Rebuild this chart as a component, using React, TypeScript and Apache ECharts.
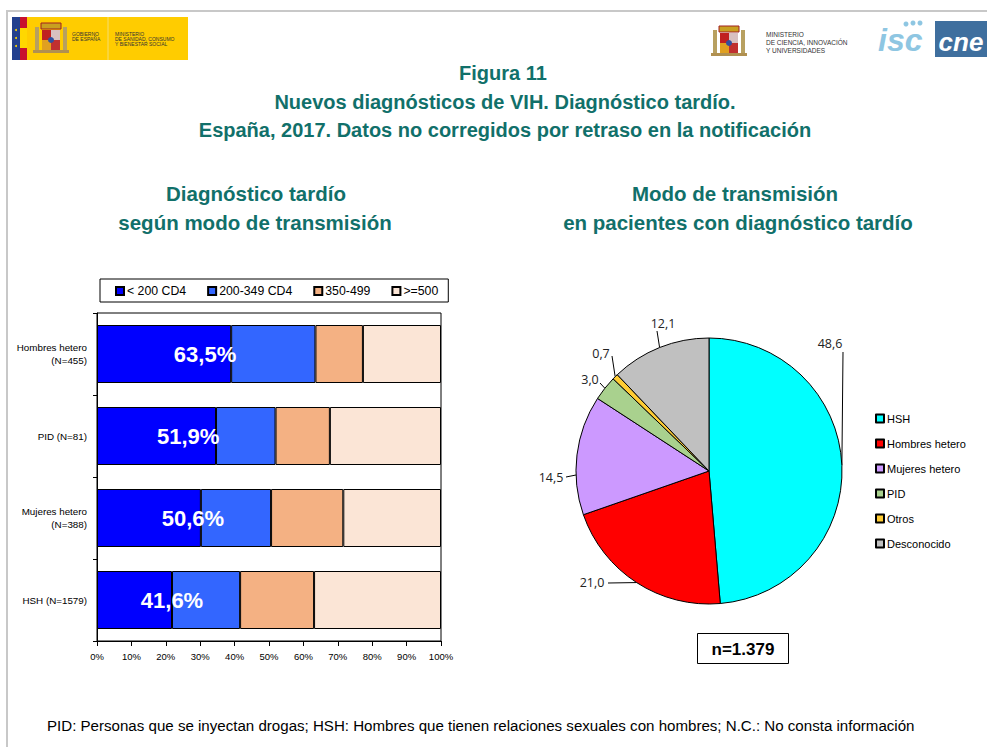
import React, { useEffect, useRef } from "react";
import * as echarts from "echarts";

// ---------- DATA ----------
const categories = ["Hombres hetero\n(N=455)", "PID (N=81)", "Mujeres hetero\n(N=388)", "HSH (N=1579)"];
const cd4Names = ["< 200 CD4", "200-349 CD4", "350-499", ">=500"];
const cd4Lt200 = [39.0, 34.6, 30.2, 21.8];
const cd4_200_349 = [24.5, 17.3, 20.4, 19.8];
const cd4_350_499 = [13.8, 15.8, 21.0, 21.5];
const cd4Ge500 = [22.7, 32.3, 28.4, 36.9];
const lateDiagnosis = [63.5, 51.9, 50.6, 41.6];
const lateLabelAnchor = [31.4, 26.5, 27.9, 21.8];
const xTicks = { min: 0, max: 100, interval: 10 };

const pieNames = ["HSH", "Hombres hetero", "Mujeres hetero", "PID", "Otros", "Desconocido"];
const pieValues = [48.6, 21.0, 14.5, 3.0, 0.7, 12.1];
const totalN = "n=1.379";

// ---------- STYLE ----------
const barColors = ["#0000FF", "#3366FF", "#F4B183", "#FBE5D6"];
const pieColors = ["#00FFFF", "#FF0000", "#CC99FF", "#A9D18E", "#FFCC33", "#C0C0C0"];
const TEAL = "#11706A";
const pieLabelPos: [number, number][] = [
  [830, 343], [592, 582], [551, 477], [590, 379], [601, 353], [663, 323],
];
const pieLabelBend: [number, number][] = [
  [843, 352], [608, 583], [566, 477], [600, 383], [612, 356], [657, 331],
];
const pieLabelEdge: ([number, number] | null)[] = [null, null, [576, 475], null, null, null];

const fmt = (v: number) => v.toFixed(1).replace(".", ",");

export default function App() {
  const ref = useRef<HTMLDivElement>(null);
  useEffect(() => {
    if (!ref.current) return;
    const chart = echarts.init(ref.current, null, { renderer: "svg" });
    const arial = "Arial, 'Liberation Sans', sans-serif";
    const barSeries = [cd4Lt200, cd4_200_349, cd4_350_499, cd4Ge500].map((d, i) => ({
      name: cd4Names[i],
      type: "bar",
      stack: "cd4",
      xAxisIndex: 0,
      yAxisIndex: 0,
      barWidth: 58,
      data: d,
      itemStyle: { color: barColors[i], borderColor: "#000", borderWidth: 1 },
      emphasis: { disabled: true },
    }));

    const titleText = (text: string, x: number, y: number, size: number) => ({
      type: "text",
      style: {
        text, x, y, fill: TEAL, textAlign: "center", textVerticalAlign: "middle",
        font: `bold ${size}px Arial, 'Liberation Sans', sans-serif`,
      },
    });
    const small = (text: string, x: number, y: number, size: number, fill = "#333") => ({
      type: "text",
      style: { text, x, y, fill, font: `${size}px Arial, sans-serif`, textVerticalAlign: "middle" },
    });

    const coat = (cx: number, cy: number) => ({
      type: "group",
      children: [
        { type: "rect", shape: { x: cx - 16, y: cy - 10, width: 4, height: 24 }, style: { fill: "#B8A060" } },
        { type: "rect", shape: { x: cx + 12, y: cy - 10, width: 4, height: 24 }, style: { fill: "#B8A060" } },
        { type: "rect", shape: { x: cx - 10, y: cy - 14, width: 20, height: 6 }, style: { fill: "#C8A020", stroke: "#A02020", lineWidth: 1 } },
        { type: "rect", shape: { x: cx - 9, y: cy - 7, width: 9, height: 10 }, style: { fill: "#C02020" } },
        { type: "rect", shape: { x: cx, y: cy - 7, width: 9, height: 10 }, style: { fill: "#D8C0C0" } },
        { type: "rect", shape: { x: cx - 9, y: cy + 3, width: 9, height: 10 }, style: { fill: "#E0A020" } },
        { type: "rect", shape: { x: cx, y: cy + 3, width: 9, height: 10 }, style: { fill: "#C03030" } },
        { type: "circle", shape: { cx, cy: cy + 3, r: 3 }, style: { fill: "#3050A0" } },
        { type: "rect", shape: { x: cx - 18, y: cy + 13, width: 36, height: 3 }, style: { fill: "#B09050" } },
      ],
    });

    chart.setOption({
      animation: false,
      textStyle: { fontFamily: arial },
      grid: [{ left: 97, right: 546, top: 313, bottom: 106, show: true, borderColor: "#000", borderWidth: 1, backgroundColor: "#fff" }],
      xAxis: [{
        type: "value", gridIndex: 0, min: xTicks.min, max: xTicks.max, interval: xTicks.interval,
        axisLine: { show: true, lineStyle: { color: "#000", width: 1 } },
        axisTick: { show: true, length: 5, lineStyle: { color: "#000" } },
        splitLine: { show: false },
        axisLabel: { formatter: "{value}%", fontFamily: arial, fontSize: 9.5, color: "#000", margin: 10 },
      }],
      yAxis: [{
        type: "category", gridIndex: 0, data: categories, inverse: true,
        axisLine: { show: true, lineStyle: { color: "#000", width: 1 } },
        axisTick: { show: true, length: 4, lineStyle: { color: "#000" } },
        axisLabel: { fontFamily: arial, fontSize: 9.8, color: "#000", lineHeight: 13, margin: 10 },
      }],
      legend: [
        {
          data: cd4Names, left: 100, top: 279, orient: "horizontal",
          borderColor: "#000", borderWidth: 1, padding: [6, 10, 5, 15],
          itemGap: 21, itemWidth: 8, itemHeight: 8, icon: "rect",
          textStyle: { fontFamily: arial, fontSize: 12.3, color: "#000", padding: [0, 0, 0, -2] },
          selectedMode: false,
        },
        {
          data: pieNames, left: 870, top: 408, orient: "vertical",
          itemGap: 14, itemWidth: 8, itemHeight: 8, icon: "rect",
          textStyle: { fontFamily: arial, fontSize: 11, color: "#000", padding: [0, 0, 0, -2] },
          selectedMode: false,
        },
      ],
      series: [
        ...barSeries,
        {
          type: "scatter", xAxisIndex: 0, yAxisIndex: 0, symbolSize: 0, silent: true, z: 10,
          itemStyle: { opacity: 1, color: "#ffffff" },
          data: lateLabelAnchor.map((x, i) => [x, categories[i]]),
          label: {
            show: true, position: "inside",
            formatter: (p: any) => fmt(lateDiagnosis[p.dataIndex]) + "%",
            color: "#ffffff", fontWeight: "bold", fontSize: 22, fontFamily: arial,
            textBorderWidth: 0, textBorderColor: "transparent", opacity: 1,
          },
        },
        {
          type: "pie", center: [709, 471], radius: 133, startAngle: 90, clockwise: true,
          data: pieNames.map((n, i) => ({ name: n, value: pieValues[i], itemStyle: { color: pieColors[i] } })),
          itemStyle: { borderColor: "#000", borderWidth: 1 },
          emphasis: { disabled: true },
          label: {
            show: true, position: "outside", formatter: (p: any) => fmt(p.value),
            fontFamily: "'Open Sans', 'Noto Sans', sans-serif", fontSize: 12.5, color: "#222",
          },
          labelLine: { show: true, length: 10, length2: 10, lineStyle: { color: "#000", width: 1 } },
          labelLayout: (params: any) => {
            const i = params.dataIndex;
            const pos = pieLabelPos[i];
            const p0 = pieLabelEdge[i] || (params.labelLinePoints ? params.labelLinePoints[0] : pieLabelBend[i]);
            const b = pieLabelBend[i];
            return {
              x: pos[0], y: pos[1], align: "center", verticalAlign: "middle",
              labelLinePoints: [p0, b, b],
            };
          },
        },
      ],
      graphic: [
        { type: "line", shape: { x1: 6, y1: 11, x2: 987, y2: 11 }, style: { stroke: "#C8C8C8", lineWidth: 2 } },
        { type: "line", shape: { x1: 7, y1: 11, x2: 7, y2: 747 }, style: { stroke: "#C8C8C8", lineWidth: 2 } },
        { type: "rect", shape: { x: 12, y: 17, width: 176, height: 43 }, style: { fill: "#FFCC00" } },
        { type: "rect", shape: { x: 12, y: 17, width: 8, height: 43 }, style: { fill: "#23408E" } },
        { type: "rect", shape: { x: 20, y: 17, width: 7, height: 43 }, style: { fill: "#C8102E" } },
        { type: "rect", shape: { x: 20, y: 28, width: 7, height: 20 }, style: { fill: "#FFD700" } },
        { type: "circle", shape: { cx: 16, cy: 30, r: 1 }, style: { fill: "#FFD700" } },
        { type: "circle", shape: { cx: 16, cy: 38, r: 1 }, style: { fill: "#FFD700" } },
        { type: "circle", shape: { cx: 16, cy: 46, r: 1 }, style: { fill: "#FFD700" } },
        coat(51, 37),
        small("GOBIERNO", 72, 34, 5),
        small("DE ESPAÑA", 72, 39, 5),
        { type: "line", shape: { x1: 108, y1: 17, x2: 108, y2: 60 }, style: { stroke: "#F5DD70", lineWidth: 1 } },
        small("MINISTERIO", 115, 34, 5),
        small("DE SANIDAD, CONSUMO", 115, 39, 5),
        small("Y BIENESTAR SOCIAL", 115, 44, 5),
        coat(729, 40),
        small("MINISTERIO", 766, 34, 6.5),
        small("DE CIENCIA, INNOVACIÓN", 766, 42, 6.5),
        small("Y UNIVERSIDADES", 766, 50, 6.5),
        {
          type: "text",
          style: { text: "isc", x: 878, y: 40, fill: "#8EC6E2", font: "italic bold 32px Arial, sans-serif", textVerticalAlign: "middle" },
        },
        { type: "circle", shape: { cx: 906, cy: 24, r: 2.5 }, style: { fill: "#8EC6E2" } },
        { type: "circle", shape: { cx: 913, cy: 23, r: 2.5 }, style: { fill: "#8EC6E2" } },
        { type: "circle", shape: { cx: 920, cy: 23, r: 2.5 }, style: { fill: "#8EC6E2" } },
        { type: "rect", shape: { x: 935, y: 21, width: 52, height: 36 }, style: { fill: "#3F6F9E" } },
        {
          type: "text",
          style: { text: "cne", x: 961, y: 42, fill: "#fff", font: "italic bold 26px Arial, sans-serif", textAlign: "center", textVerticalAlign: "middle" },
        },
        titleText("Figura 11", 503, 73, 20),
        titleText("Nuevos diagnósticos de VIH. Diagnóstico tardío.", 505, 102, 20),
        titleText("España, 2017. Datos no corregidos por retraso en la notificación", 505, 130, 20),
        titleText("Diagnóstico tardío", 256, 193, 20.5),
        titleText("según modo de transmisión", 255, 222, 20.5),
        titleText("Modo de transmisión", 735, 193, 20.5),
        titleText("en pacientes con diagnóstico tardío", 738, 222, 20.5),
        { type: "rect", shape: { x: 697.5, y: 633.5, width: 91, height: 30 }, style: { fill: "#fff", stroke: "#000", lineWidth: 1 } },
        {
          type: "text",
          style: { text: totalN, x: 743, y: 649, fill: "#000", font: "bold 17px Arial, sans-serif", textAlign: "center", textVerticalAlign: "middle" },
        },
        {
          type: "text",
          style: {
            text: "PID: Personas que se inyectan drogas; HSH: Hombres que tienen relaciones sexuales con hombres; N.C.: No consta información",
            x: 47, y: 725, fill: "#000", font: "15.1px Arial, 'Liberation Sans', sans-serif", textVerticalAlign: "middle",
          },
        },
      ],
    });
    return () => chart.dispose();
  }, []);
  return <div ref={ref} style={{ position: "absolute", left: 0, top: 0, width: 987, height: 747, background: "#fff" }} />;
}
